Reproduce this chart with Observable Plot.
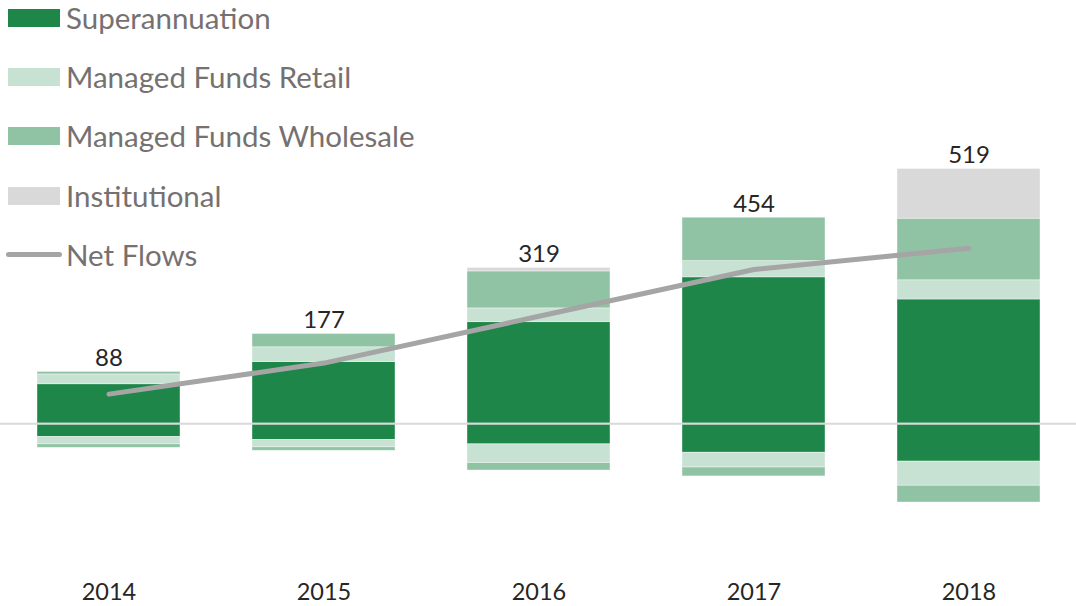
<!DOCTYPE html>
<html>
<head>
<meta charset="utf-8">
<script src="https://cdn.jsdelivr.net/npm/d3@7"></script>
<script src="https://cdn.jsdelivr.net/npm/@observablehq/plot@0.6"></script>
<style>
  body { margin: 0; background: #fff; }
  #wrap { position: relative; width: 1076px; height: 606px; font-family: Lato, "Open Sans", sans-serif; }
  #legend { position: absolute; left: 0; top: 0; width: 440px; height: 280px; }
  .row { position: absolute; left: 0; height: 40px; display: flex; align-items: center; white-space: nowrap; }
  .sw { position: absolute; left: 8px; width: 52px; height: 18px; }
  .ln { position: absolute; left: 6px; width: 56px; height: 5px; border-radius: 3px; }
  .lab { position: absolute; left: 66px; font-size: 29.5px; color: #767171; line-height: 40px; }
</style>
</head>
<body>
<div id="wrap"><div id="chart"></div><div id="legend"></div></div>
<script>
// ---- data ----
const years = ["2014", "2015", "2016", "2017", "2018"];
const categories = ["Superannuation", "Managed Funds Retail", "Managed Funds Wholesale", "Institutional"];
const colors = ["#1f864a", "#c7e2d3", "#90c3a4", "#d9d9d9"];
const superannuationIn  = [80, 125, 206, 297, 252];
const superannuationOut = [-27, -33, -42, -59, -77];
const retailIn          = [20, 30, 28, 33, 39];
const retailOut         = [-15, -15, -38, -30, -49];
const wholesaleIn       = [5, 27, 75, 88, 125];
const wholesaleOut      = [-7, -7, -15, -18, -34];
const institutionalIn   = [0, 0, 7, 0, 101];
const institutionalOut  = [0, 0, 0, 0, 0];
const netFlows          = [60, 123, 218, 313, 356];
const totalLabels       = [88, 177, 319, 454, 519];
const lineName = "Net Flows";
const lineColor = "#a5a5a5";

// ---- build tables ----
const series = [
  [categories[0], superannuationIn, superannuationOut],
  [categories[1], retailIn, retailOut],
  [categories[2], wholesaleIn, wholesaleOut],
  [categories[3], institutionalIn, institutionalOut]
];
const bars = [];
for (const [cat, ins, outs] of series) {
  years.forEach((y, i) => {
    bars.push({year: y, category: cat, value: ins[i]});
    bars.push({year: y, category: cat, value: outs[i]});
  });
}
const posTotals = years.map((y, i) => series.reduce((s, [, ins]) => s + ins[i], 0));
const labels = years.map((y, i) => ({year: y, top: posTotals[i], text: String(totalLabels[i])}));
const line = years.map((y, i) => ({year: y, value: netFlows[i]}));

const chart = Plot.plot({
  width: 1076,
  height: 606,
  marginLeft: 0,
  marginRight: 0,
  marginTop: 29,
  marginBottom: 35,
  style: {fontFamily: "Lato, 'Open Sans', sans-serif", background: "white"},
  x: {domain: years, paddingInner: 0.335, paddingOuter: 0.1675, label: null},
  y: {domain: [-300, 800], axis: null},
  color: {domain: categories, range: colors},
  marks: [
    Plot.barY(bars, Plot.stackY({
      x: "year", y: "value", fill: "category", order: null,
      stroke: "white", strokeOpacity: 0.5, strokeWidth: 0.75
    })),
    Plot.ruleY([0], {stroke: "#d9d9d9", strokeWidth: 2}),
    Plot.line(line, {x: "year", y: "value", stroke: lineColor, strokeWidth: 5,
      strokeLinecap: "round", strokeLinejoin: "round"}),
    Plot.text(labels, {x: "year", y: "top", text: "text", lineAnchor: "bottom", dy: -6,
      fontSize: 24, fill: "#262626"}),
    Plot.axisX({tickSize: 0, tickPadding: 12, fontSize: 23.5, color: "#262626", label: null})
  ]
});
document.getElementById("chart").appendChild(chart);

// ---- legend ----
const legend = document.getElementById("legend");
const entries = categories.map((c, i) => ({name: c, color: colors[i], kind: "box"}))
  .concat([{name: lineName, color: lineColor, kind: "line"}]);
entries.forEach((e, i) => {
  const row = document.createElement("div");
  row.className = "row";
  const cy = 18 + i * 59.2;
  row.style.top = (cy - 20) + "px";
  const sw = document.createElement("div");
  sw.className = e.kind === "box" ? "sw" : "ln";
  sw.style.background = e.color;
  sw.style.top = e.kind === "box" ? "11px" : "17.5px";
  const lab = document.createElement("div");
  lab.className = "lab";
  lab.style.top = "0px";
  lab.textContent = e.name;
  row.appendChild(sw);
  row.appendChild(lab);
  legend.appendChild(row);
});
</script>
</body>
</html>
